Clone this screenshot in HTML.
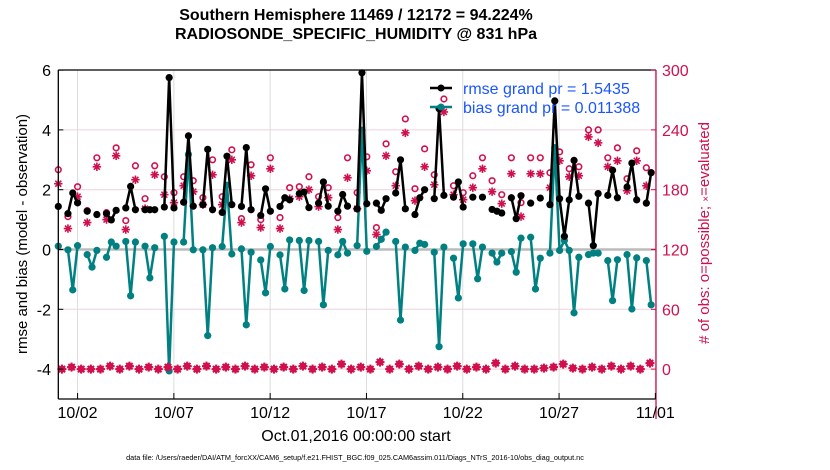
<!DOCTYPE html>
<html><head><meta charset="utf-8"><style>
html,body{margin:0;padding:0;background:#fff;}
svg{display:block;font-family:"Liberation Sans",Arial,sans-serif;}
</style></head><body>
<svg id="chart" width="830" height="470" viewBox="0 0 830 470">
<text x="356" y="20" text-anchor="middle" font-size="16" font-weight="bold">Southern Hemisphere 11469 / 12172 = 94.224%</text>
<text x="356" y="39" text-anchor="middle" font-size="16" font-weight="bold">RADIOSONDE_SPECIFIC_HUMIDITY @ 831 hPa</text>
<g id="grid"></g>
<g id="marks"></g>
<g id="axes"></g>
<text transform="translate(27,234) rotate(-90)" text-anchor="middle" font-size="15">rmse and bias (model - observation)</text>
<text transform="translate(709,233) rotate(-90)" text-anchor="middle" font-size="15" fill="#d0104c"># of obs: o=possible; <tspan font-size="10">×</tspan>=evaluated</text>
<text x="356" y="441" text-anchor="middle" font-size="16">Oct.01,2016 00:00:00 start</text>
<text x="355" y="460" text-anchor="middle" font-size="7.3">data file: /Users/raeder/DAI/ATM_forcXX/CAM6_setup/f.e21.FHIST_BGC.f09_025.CAM6assim.011/Diags_NTrS_2016-10/obs_diag_output.nc</text>
<g>
<line x1="430" y1="88" x2="452" y2="88" stroke="#000" stroke-width="2.5"/>
<circle cx="441" cy="88" r="3.5" fill="#000"/>
<text x="463" y="94" font-size="16" fill="#1a55ff">rmse grand pr = 1.5435</text>
<line x1="430" y1="107" x2="452" y2="107" stroke="#008080" stroke-width="2.5"/>
<circle cx="441" cy="107" r="3.5" fill="#008080"/>
<text x="463" y="113" font-size="16" fill="#1a55ff">bias grand pr = 0.011388</text>
</g>
</svg>
<script>
const N = 125;
const rmseBins = [0,2,3,4,6,8,10,11,12,14,15,16,18,19,20,22,23,24,26,27,28,30,31,32,34,35,36,38,39,40,42,43,44,46,47,48,50,51,52,54,55,56,58,59,60,62,63,64,66,67,68,70,71,72,74,75,76,78,79,80,82,83,84,86,88,90,91,92,94,95,96,98,100,102,103,104,105,106,107,108,110,111,112,114,115,116,118,119,120,122,123];
const rmseVals = [1.44,1.2,1.89,1.56,1.28,1.17,1.2,0.99,1.31,1.39,2.11,1.33,1.33,1.33,1.33,1.42,5.75,1.39,1.58,3.8,1.45,1.5,3.35,1.33,1.24,3.12,1.5,1.44,3.41,1.33,1.14,2.03,1.28,1.44,1.73,1.66,1.87,1.92,1.4,1.55,2.26,1.45,1.28,1.84,1.45,1.36,5.91,1.53,1.55,1.31,1.7,1.89,3.0,1.36,1.17,1.73,2.0,1.7,4.71,1.81,1.75,2.26,1.42,1.75,1.75,1.34,1.28,1.22,1.73,1.03,1.8,1.55,1.72,1.5,4.97,1.7,0.44,1.66,2.98,1.78,1.55,0.13,1.87,1.81,2.65,1.73,2.09,2.89,1.66,1.55,2.57];
const biasBins = [0,2,3,4,6,7,8,10,11,12,14,15,16,18,19,20,22,23,24,26,27,28,30,31,32,34,35,36,38,39,40,42,43,44,46,47,48,50,51,52,54,55,56,58,59,60,62,63,64,66,67,68,70,71,72,74,75,76,78,79,80,82,83,84,86,87,88,90,91,92,94,95,96,98,99,100,102,103,104,105,106,107,108,110,111,112,114,115,116,118,119,120,122,123];
const biasVals = [0.11,-0.01,-1.35,0.13,-0.17,-0.59,-0.03,-0.26,0.25,0.11,0.27,-1.55,0.25,0.11,-0.95,0.06,0.44,-4.06,0.25,0.25,3.18,-0.01,-0.01,-2.88,0.06,0.1,2.15,-0.15,0.02,-2.52,-0.09,-0.35,-1.45,0.1,-0.18,-1.32,0.32,0.3,-1.37,0.3,0.27,-1.85,-0.03,-0.18,0.27,-0.12,0.13,3.99,-0.06,0.1,0.34,0.58,0.27,-2.36,0.08,-0.03,0.21,0.17,-0.09,-3.25,0.08,-0.29,-1.62,0.19,0.19,-0.98,0.08,-0.12,-0.42,-0.12,-0.07,-0.76,0.38,0.41,-1.32,-0.29,-0.12,3.41,-0.03,0.3,-0.03,-2.12,-0.26,-0.17,-0.12,-0.12,-0.37,-1.71,-0.34,-0.17,-1.99,-0.28,-0.37,-1.85];
const possibleVals = [200,153,183,159,212,157,222,149,204,171,204,193,177,193,189,172,210,173,220,151,205,150,212,152,182,183,193,173,182,152,212,177,213,142,226,198,251,181,221,195,271,184,177,194,212,189,175,212,167,212,212,197,218,201,203,240,240,212,222,191,219,202];
const evaluatedVals = [186,141,173,147,203,150,214,140,190,161,195,175,167,184,178,165,195,165,210,147,194,142,201,141,171,173,180,163,172,140,192,161,199,135,214,184,237,169,203,185,258,175,170,182,201,178,166,196,153,196,196,182,209,193,194,233,227,203,209,179,209,184];
const lowCountVals = [0,2,0,0,0,3,0,3,0,2,0,2,0,3,0,3,0,2,0,3,0,2,0,2,0,3,0,2,0,5,0,2,0,7,0,5,0,3,0,2,0,3,0,2,0,6,0,3,0,0,1,2,5,1,0,2,0,3,0,3,0,6];
const leftTicks = [6,4,2,0,-2,-4];
const rightTicks = [300,240,180,120,60,0];
const dateTicks = ["10/02","10/07","10/12","10/17","10/22","10/27","11/01"];
const dateTickDays = [1,6,11,16,21,26,31];

const PL=58.3, PR=656, PT=70, PB=399;
const xBin = b => 58.3 + b*4.82;
const xDay = d => 58.3 + d*19.26;
const yL = v => 249.5 - v*29.9;
const yR = v => 369.1 - v*0.9967;
const NS='http://www.w3.org/2000/svg';
function mk(tag, attrs, parent){const e=document.createElementNS(NS,tag);for(const k in attrs)e.setAttribute(k,attrs[k]);parent.appendChild(e);return e;}
const grid=document.getElementById('grid'), marks=document.getElementById('marks'), axes=document.getElementById('axes');
const PINK='#d0104c', TEAL='#008080';

dateTickDays.forEach((d,i)=>{
  const g=mk('line',{x1:xDay(d),x2:xDay(d),y1:PT,y2:PB,stroke:'#dcdcdc','stroke-width':1},grid);
  
  
});
rightTicks.forEach(v=>{
  const g=mk('line',{x1:PL,x2:PR,y1:yR(v),y2:yR(v),stroke:'#f0d0dc','stroke-width':1},grid);
  
  
});
const zl=mk('line',{x1:PL,x2:PR,y1:yL(0),y2:yL(0),stroke:'#bbbbbb','stroke-width':2.5},grid);



function series(bins, vals, color, name){
  let segs=[], cur=[];
  for(let i=0;i<bins.length;i++){
    if(i>0 && bins[i]-bins[i-1]>1){segs.push(cur);cur=[];}
    cur.push([xBin(bins[i]), yL(vals[i])]);
  }
  segs.push(cur);
  segs.forEach(s=>{
    if(s.length>1){
      const p=mk('polyline',{points:s.map(q=>q.join(',')).join(' '),fill:'none',stroke:color,'stroke-width':2.5,'stroke-linejoin':'round'},marks);
      
      
    }
  });
  for(let i=0;i<bins.length;i++){
    const c=mk('circle',{cx:xBin(bins[i]),cy:yL(vals[i]),r:3.6,fill:color},marks);
    
    
  }
}
function asterisk(x,y,r,name,w){
  const g=mk('g',{stroke:PINK,'stroke-width':w||1.6},marks);
  
  
  for(let a=0;a<4;a++){const t=a*Math.PI/4;mk('line',{x1:x-r*Math.cos(t),y1:y-r*Math.sin(t),x2:x+r*Math.cos(t),y2:y+r*Math.sin(t)},g);}
}
possibleVals.forEach((v,k)=>{
  const c=mk('circle',{cx:xBin(2*k),cy:yR(v),r:2.8,fill:'none',stroke:PINK,'stroke-width':1.6},marks);
  
  
});
evaluatedVals.forEach((v,k)=>{asterisk(xBin(2*k),yR(v),4.2,'evaluated-obs-point');});
series(biasBins,biasVals,TEAL,'bias');
series(rmseBins,rmseVals,'#000','rmse');
lowCountVals.forEach((v,k)=>{
  const x=xBin(2*k+0.75), y=yR(v);
  const d=mk('rect',{x:x-3.2,y:y-3.2,width:6.4,height:6.4,fill:PINK,transform:`rotate(45 ${x} ${y})`},marks);
  
  
  asterisk(x,y,4.5,'low-count-asterisk',2);
});

const fr=[[PL,PT,PR,PT,'#000'],[PL,PT,PL,PB,'#000'],[PL,PB,PR,PB,'#000'],[PR,PT,PR,PB+20,PINK]];
fr.forEach(f=>{
  const l=mk('line',{x1:f[0],y1:f[1],x2:f[2],y2:f[3],stroke:f[4],'stroke-width':1.3},axes);
  
  
});
leftTicks.forEach(v=>{
  const t=mk('text',{x:51,y:yL(v)+6,'text-anchor':'end','font-size':16},axes);
  t.textContent=v;
  
  
  const l=mk('line',{x1:PL,x2:PL+5,y1:yL(v),y2:yL(v),stroke:'#000'},axes);
  
  
});
rightTicks.forEach(v=>{
  const t=mk('text',{x:662,y:yR(v)+6,'font-size':16,fill:PINK},axes);
  t.textContent=v;
  
  
  const l=mk('line',{x1:PR-5,x2:PR,y1:yR(v),y2:yR(v),stroke:PINK},axes);
  
  
});
dateTicks.forEach((s,i)=>{
  const x=xDay(dateTickDays[i]);
  const t=mk('text',{x:x,y:418,'text-anchor':'middle','font-size':16},axes);
  t.textContent=s;
  
  
  const l=mk('line',{x1:x,x2:x,y1:PB,y2:PB-6,stroke:'#000'},axes);
  
  
});
</script>
</body></html>
